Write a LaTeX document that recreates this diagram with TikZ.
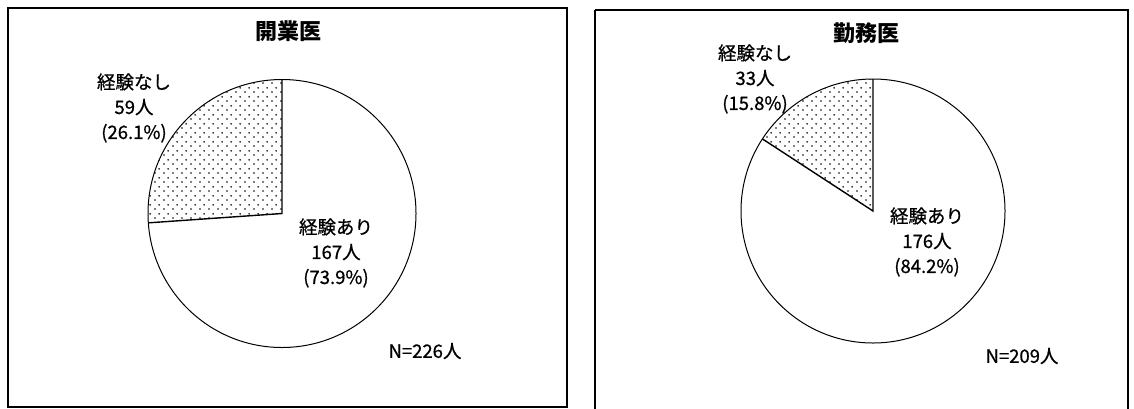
\documentclass[tikz,border=0pt]{standalone}
\usepackage{fontspec}
\newfontfamily\jp{Noto Sans CJK JP}
\newfontfamily\jpm[FakeBold=0.8]{Noto Sans CJK JP}
\usetikzlibrary{patterns}
\pgfdeclarepatternformonly{sparsedots}{\pgfqpoint{0pt}{0pt}}{\pgfqpoint{9pt}{9pt}}{\pgfqpoint{9pt}{9pt}}{%
  \pgfpathcircle{\pgfqpoint{2.25pt}{2.25pt}}{1pt}%
  \pgfpathcircle{\pgfqpoint{6.75pt}{6.75pt}}{1pt}%
  \pgfusepath{fill}}
\tikzset{
  panel/.style={draw=black, line width=1.3pt},
  titletext/.style={font=\jp\bfseries\fontsize{22}{26}\selectfont, inner sep=0pt},
  label/.style={font=\jpm\fontsize{18.5}{25}\selectfont, align=center, inner sep=0pt},
  ntext/.style={font=\jpm\fontsize{18.5}{20}\selectfont, inner sep=0pt},
  pieedge/.style={draw=black, line width=1pt},
  sliceedge/.style={draw=black, line width=1.4pt},
  dotfill/.style={pattern=sparsedots, pattern color=black}
}
\begin{document}
\begin{tikzpicture}[x=1pt,y=-1pt]
\useasboundingbox (0,0) rectangle (1134,408);
\fill[white] (0,0) rectangle (1134,408);
% panels
\draw[panel] (8,8) rectangle (567,407);
\draw[panel] (595,10) -- (1128,10) -- (1128,410);
\draw[panel] (595,10) -- (595,410);
% left pie
\begin{scope}[shift={(282,213.5)}, y=1pt]
  \fill[dotfill] (0,0) -- (90:134) arc[start angle=90, end angle=184, radius=134] -- cycle;
  \draw[pieedge] (0,0) circle (134);
  \draw[sliceedge] (90:134) -- (0,0) -- (184:134);
\end{scope}
% right pie
\begin{scope}[shift={(873,211)}, y=1pt]
  \fill[dotfill] (0,0) -- (90:132) arc[start angle=90, end angle=146.9, radius=132] -- cycle;
  \draw[pieedge] (0,0) circle (132);
  \draw[sliceedge] (90:132) -- (0,0) -- (146.9:132);
\end{scope}
% texts left
\node[titletext] (t1) at (288,31) {開業医};
\node[label] (n1) at (134,108) {経験なし\\59人\\(26.1\%)};
\node[label] (a1) at (336,253) {経験あり\\167人\\(73.9\%)};
\node[ntext] (N1) at (425,351) {N=226人};
% texts right
\node[titletext] (t2) at (866,33) {勤務医};
\node[label] (n2) at (755,79) {経験なし\\33人\\(15.8\%)};
\node[label] (a2) at (927,242) {経験あり\\176人\\(84.2\%)};
\node[ntext] (N2) at (1022,356) {N=209人};
\end{tikzpicture}
\end{document}
